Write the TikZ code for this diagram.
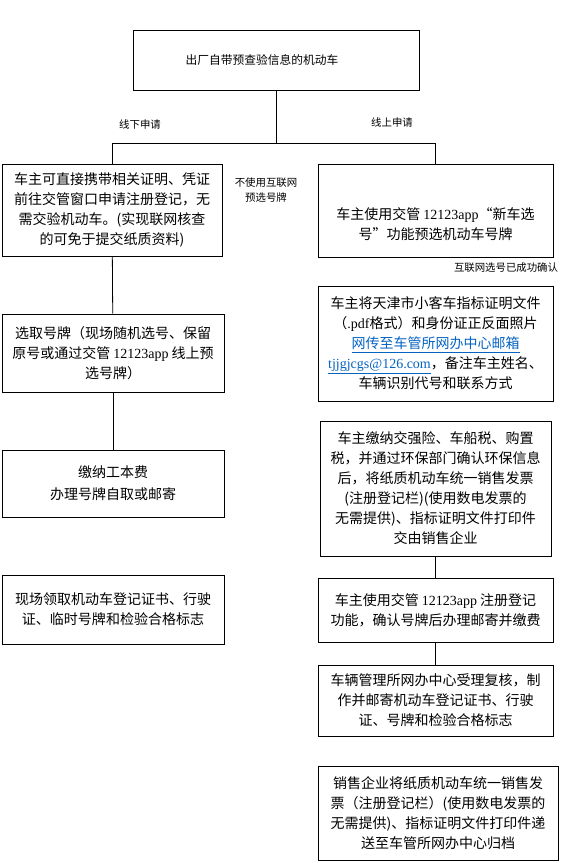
\documentclass[tikz,border=0pt]{standalone}
\usepackage{fontspec}
\setmainfont{Liberation Serif}
\newfontfamily\cjk{Noto Sans CJK SC}
\usepackage{tikz}
\usetikzlibrary{positioning,calc}
\definecolor{LinkBlue}{HTML}{0563C1}
\newcommand{\lat}[1]{{\rmfamily #1}}
\newcommand{\weblink}[1]{\textcolor{LinkBlue}{\underline{#1}}}

\begin{document}
\begin{tikzpicture}[
    x=0.75pt, y=-0.75pt,
    box/.style={
      draw, line width=0.6pt, inner sep=2pt,
      font=\cjk\fontsize{10.5}{15}\selectfont, align=center
    },
    conn/.style={line width=0.6pt},
    note/.style={font=\cjk\fontsize{7.8}{11}\selectfont, align=center}
  ]

  \useasboundingbox (0,0) rectangle (580,863);

  % top of the chart
  \node[box, minimum width=214.5pt, minimum height=45pt,
        font=\cjk\fontsize{8.8}{13}\selectfont] (top) at (276,60)
    {出厂自带预查验信息的机动车\hspace*{21pt}};
  \coordinate (split) at (276,143);

  % offline branch
  \node[box, minimum width=165pt, minimum height=69pt] (off1) at (112,210)
    {车主可直接携带相关证明、凭证\\前往交管窗口申请注册登记，无\\需交验机动车。(实现联网核查\\的可免于提交纸质资料)};
  \node[box, minimum width=166.5pt, minimum height=58.5pt] (off2) at (113,353)
    {选取号牌（现场随机选号、保留\\原号或通过交管 \lat{12123app} 线上预\\选号牌）};
  \node[box, minimum width=166.5pt, minimum height=50.25pt] (off3) at (113,483.5)
    {缴纳工本费\\[1.5pt]办理号牌自取或邮寄};
  \node[box, minimum width=166.5pt, minimum height=51.75pt] (off4) at (113,609.5)
    {现场领取机动车登记证书、行驶\\证、临时号牌和检验合格标志};

  % online branch
  \node[box, minimum width=176.25pt, minimum height=69.75pt] (on1) at (435.5,210.5)
    {\rule{0pt}{29pt}车主使用交管 \lat{12123app}“新车选\\号”功能预选机动车号牌};
  \node[box, minimum width=176.25pt, minimum height=86.25pt] (on2) at (435.5,343.5)
    {车主将天津市小客车指标证明文件\\（\lat{.pdf}格式）和身份证正反面照片\\\weblink{网传至车管所网办中心邮箱}\\\weblink{\lat{tjjgjcgs@126.com}}，备注车主姓名、\\车辆识别代号和联系方式};
  \node[box, minimum width=173.25pt, minimum height=101.25pt] (on3) at (435.5,488.5)
    {车主缴纳交强险、车船税、购置\\税，并通过环保部门确认环保信息\\后，将纸质机动车统一销售发票\\(注册登记栏)(使用数电发票的\\无需提供)、指标证明文件打印件\\交由销售企业};
  \node[box, minimum width=176.25pt, minimum height=48pt] (on4) at (435.5,610)
    {车主使用交管 \lat{12123app} 注册登记\\功能，确认号牌后办理邮寄并缴费};
  \node[box, minimum width=176.25pt, minimum height=53.25pt] (on5) at (435.5,700.5)
    {车辆管理所网办中心受理复核，制\\作并邮寄机动车登记证书、行驶\\证、号牌和检验合格标志};
  \node[box, minimum width=180pt, minimum height=70.5pt] (on6) at (438,813)
    {销售企业将纸质机动车统一销售发\\票（注册登记栏）(使用数电发票的\\无需提供)、指标证明文件打印件递\\送至车管所网办中心归档};

  % connectors
  \draw[conn] (top.south) -- (split) -| (off1.north);
  \draw[conn] (split) -| (on1.north);
  \draw[conn] (off1) -- (off2);
  \draw[conn] (off2) -- (off3);
  \draw[conn] (on3) -- (on4);
  \draw[conn] (on4) -- (on5);

  % notes
  \node[note] (lblOff) at (140,125) {线下申请};
  \node[note] (lblOn) at (392,123) {线上申请};
  \node[note] (lblNoNet) at (266,190) {不使用互联网\\预选号牌};
  \node[note] (lblOk) at (506,268) {互联网选号已成功确认};

\end{tikzpicture}
\end{document}
